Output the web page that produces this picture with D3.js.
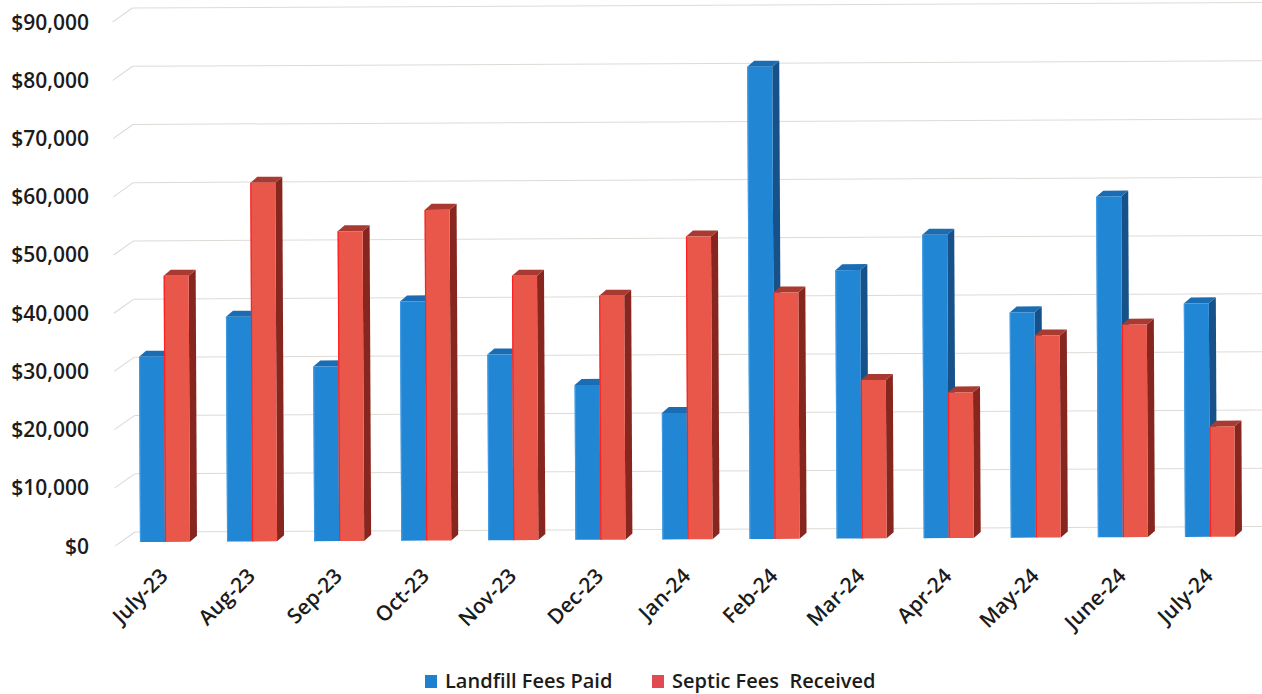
<!DOCTYPE html>
<html lang="en">
<head>
<meta charset="UTF-8">
<title>Landfill vs Septic Fees</title>
<script src="https://cdn.jsdelivr.net/npm/d3@7"></script>
<style>
    body { margin: 0; background: #fff; }
    svg text { font-family: "Open Sans", "Noto Sans", sans-serif; font-weight: 600; fill: #1b1b1b; }
</style>
</head>
<body>
<div id="chart"></div>
<script>
// data
var months = ["July-23", "Aug-23", "Sep-23", "Oct-23", "Nov-23", "Dec-23", "Jan-24",
              "Feb-24", "Mar-24", "Apr-24", "May-24", "June-24", "July-24"];
var landfill = [31800, 38600, 30000, 41100, 31900, 26600, 21700, 81100, 46100, 52100, 38700, 58500, 40100];
var septic   = [45700, 61600, 53200, 56800, 45400, 41900, 52000, 42300, 27200, 25000, 34700, 36500, 18900];
var seriesNames = ["Landfill Fees Paid", "Septic Fees  Received"];
var yTicks = [0, 10000, 20000, 30000, 40000, 50000, 60000, 70000, 80000, 90000];

var width = 1262, height = 694;

// colours for front / top / side of each series
var colors = [
    {front: "#2186d4", top: "#1b6db3", side: "#16518a", edge: "#3d9be6", key: "#2080d0"},
    {front: "#e9564a", top: "#a93a31", side: "#87261f", edge: "#ff2020", key: "#e04a50"}
];

var svg = d3.select("#chart").append("svg")
    .attr("width", width)
    .attr("height", height);

// value scales: label column (front of side wall) and bars
var yLabel = d3.scaleLinear().domain([0, 90000]).range([546, 22]);
var y = d3.scaleLinear().domain([0, 90000]).range([542, 18]);

var x = d3.scalePoint().domain(months).range([165, 1210]);
var xs = d3.scaleBand().domain(seriesNames).range([-25, 25]);

var depth = {dx: 7, dy: -6};
var wall = {dx: 20, dy: -14};

// the scan is a little tilted, so the plot is too
var plot = svg.append("g")
    .attr("transform", "rotate(-0.28, 140, 542)");

// back wall gridlines + side wall diagonals
var grid = plot.append("g");
grid.selectAll("line.back")
    .data(yTicks)
    .enter().append("line")
    .attr("class", "back")
    .attr("x1", 115 + wall.dx).attr("x2", width + 10)
    .attr("y1", function (d) { return yLabel(d) + wall.dy; })
    .attr("y2", function (d) { return yLabel(d) + wall.dy; })
    .attr("stroke", "#dedbd6")
    .attr("stroke-width", 1);

grid.selectAll("line.side")
    .data(yTicks)
    .enter().append("line")
    .attr("class", "side")
    .attr("x1", 115).attr("x2", 115 + wall.dx)
    .attr("y1", function (d) { return yLabel(d); })
    .attr("y2", function (d) { return yLabel(d) + wall.dy; })
    .attr("stroke", "#d8d8d8")
    .attr("stroke-width", 1);

// bars, one group per month, blue first so red sits in front of its side
var rows = months.map(function (m, i) {
    return {month: m, values: [landfill[i], septic[i]]};
});

var groups = plot.selectAll("g.month")
    .data(rows)
    .enter().append("g")
    .attr("class", "month");

groups.each(function (row) {
    var g = d3.select(this);
    row.values.forEach(function (v, s) {
        var c = colors[s];
        var x0 = x(row.month) + xs(seriesNames[s]);
        var x1 = x0 + xs.bandwidth();
        var yt = y(v), yb = y(0);
        // side face
        g.append("path")
            .attr("d", "M" + x1 + "," + yb + "L" + x1 + "," + yt +
                "L" + (x1 + depth.dx) + "," + (yt + depth.dy) +
                "L" + (x1 + depth.dx) + "," + (yb + depth.dy) + "Z")
            .attr("fill", c.side);
        // top face
        g.append("path")
            .attr("d", "M" + x0 + "," + yt + "L" + (x0 + depth.dx) + "," + (yt + depth.dy) +
                "L" + (x1 + depth.dx) + "," + (yt + depth.dy) + "L" + x1 + "," + yt + "Z")
            .attr("fill", c.top);
        // front face
        g.append("rect")
            .attr("x", x0)
            .attr("y", yt)
            .attr("width", xs.bandwidth())
            .attr("height", yb - yt)
            .attr("fill", c.front);
        g.append("line")
            .attr("x1", x0 + 0.5).attr("x2", x0 + 0.5)
            .attr("y1", yt).attr("y2", yb)
            .attr("stroke", c.edge)
            .attr("stroke-width", 1.2);
    });
});

// y axis labels
svg.append("g").selectAll("text")
    .data(yTicks)
    .enter().append("text")
    .attr("x", 89)
    .attr("y", function (d) { return yLabel(d); })
    .attr("dy", "0.36em")
    .attr("text-anchor", "end")
    .style("font-size", "21px")
    .text(function (d) { return "$" + d3.format(",")(d); });

// x axis labels, rotated
svg.append("g").selectAll("text")
    .data(months)
    .enter().append("text")
    .attr("transform", function (d) { return "translate(" + (x(d) - 1) + ",572) rotate(-45)"; })
    .attr("text-anchor", "end")
    .attr("dy", "0.36em")
    .style("font-size", "21px")
    .text(function (d) { return d; });

// legend
var legend = svg.append("g");
var legendX = [425, 652];
seriesNames.forEach(function (name, i) {
    legend.append("rect")
        .attr("x", legendX[i])
        .attr("y", 675)
        .attr("width", 12)
        .attr("height", 13)
        .attr("fill", colors[i].key);
    legend.append("text")
        .attr("x", legendX[i] + 20)
        .attr("y", 681)
        .attr("dy", "0.36em")
        .style("font-size", "20px")
        .style("white-space", "pre")
        .text(name);
});
</script>
</body>
</html>
